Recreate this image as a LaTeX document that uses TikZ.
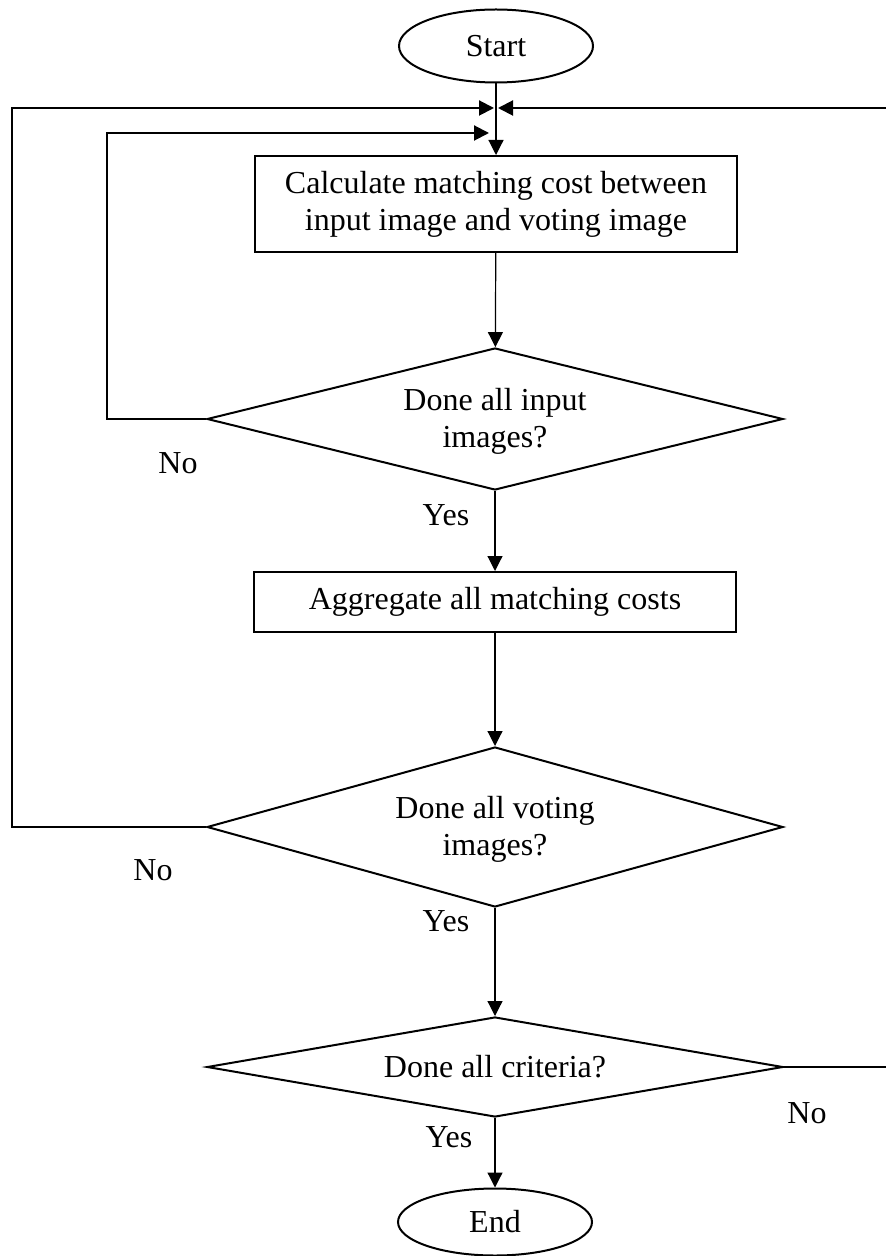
\documentclass[tikz,border=0pt]{standalone}
\usepackage{fontspec}
\setmainfont{Liberation Serif}
\usetikzlibrary{shapes.geometric,arrows.meta}
\begin{document}
\begin{tikzpicture}[x=0.5pt,y=-0.5pt,
  every node/.style={font=\fontsize{16}{18.5}\selectfont},
  terminal/.style={draw,ellipse,line width=1pt,minimum width=97pt,inner sep=0pt},
  process/.style={draw,rectangle,line width=1pt,minimum width=241pt,inner sep=0pt,align=center},
  decision/.style={draw,diamond,line width=1pt,minimum width=288pt,inner sep=0pt,align=center},
  flow/.style={line width=0.6pt,-{Triangle[length=7.5pt,width=7.5pt]}},
  back/.style={line width=1pt,-{Triangle[length=7.5pt,width=7.5pt]}},
  answer/.style={inner sep=0pt}]
\useasboundingbox (0,0) rectangle (885,1256);

% main column
\node[terminal, minimum height=36.5pt] (start) at (496,46) {Start};
\node[process, minimum height=48pt] (calc) at (496,204)
  {Calculate matching cost between\\input image and voting image};
\node[decision, shape aspect=4, minimum height=71pt] (d1) at (495,419)
  {\rule{0pt}{13pt}Done all input\\images?};
\node[process, minimum height=30pt] (agg) at (495,602) {Aggregate all matching costs};
\node[decision, shape aspect=3.6, minimum height=80pt] (d2) at (495,827)
  {\rule{0pt}{13pt}Done all voting\\images?};
\node[decision, shape aspect=5.8, minimum height=50pt] (d3) at (495,1067)
  {Done all criteria?};
\node[terminal, minimum height=33.5pt] (end) at (495,1222) {End};

% downward flow
\draw[flow] (start) -- (calc);
\draw[flow] (calc) -- (d1);
\draw[flow] (d1) -- (agg);
\draw[flow] (agg) -- (d2);
\draw[flow] (d2) -- (d3);
\draw[flow] (d3) -- (end);

% return loops
\coordinate (inL) at (107,133);
\coordinate (inTip) at (489,133);
\coordinate (outL) at (12,108);
\coordinate (outTipL) at (494,108);
\coordinate (outR) at (888,108);
\coordinate (outTipR) at (498,108);
\draw[back] (d1.west) -| (inL) -- (inTip);
\draw[back] (d2.west) -| (outL) -- (outTipL);
\draw[back] (d3.east) -| (outR) -- (outTipR);

% branch labels
\node[answer] (no1) at (178,463) {No};
\node[answer] (yes1) at (446,515) {Yes};
\node[answer] (no2) at (153,870) {No};
\node[answer] (yes2) at (446,921) {Yes};
\node[answer] (no3) at (807,1113) {No};
\node[answer] (yes3) at (449,1137) {Yes};
\end{tikzpicture}
\end{document}
